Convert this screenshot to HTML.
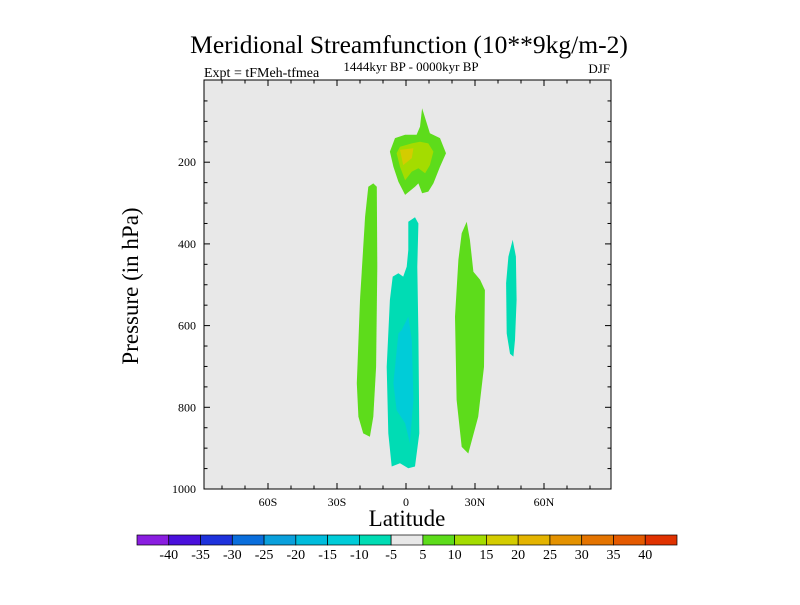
<!DOCTYPE html>
<html><head><meta charset="utf-8"><style>
body{margin:0;background:#fff;width:800px;height:600px;overflow:hidden}
svg text{font-family:"Liberation Serif",serif;fill:#000}
</style></head><body>
<svg id="chart" width="800" height="600" viewBox="0 0 800 600" xmlns="http://www.w3.org/2000/svg">
<text x="409" y="53" font-size="25.5" text-anchor="middle">Meridional Streamfunction (10**9kg/m-2)</text>
<text x="204" y="77" font-size="14">Expt = tFMeh-tfmea</text>
<text x="411" y="71" font-size="13" text-anchor="middle">1444kyr BP - 0000kyr BP</text>
<text x="610" y="73" font-size="13" text-anchor="end">DJF</text>
<rect x="204" y="80" width="407" height="409" fill="#e8e8e8"/>
<g id="fills"></g>
<rect x="204" y="80" width="407" height="409" fill="none" stroke="#000" stroke-width="1"/>
<g id="axes"></g>
<text x="407" y="526" font-size="23" text-anchor="middle">Latitude</text>
<text transform="translate(138,286) rotate(-90)" font-size="23" text-anchor="middle">Pressure (in hPa)</text>
<g id="colorbar"></g>
</svg>
<script>
const levelLabels=["-40","-35","-30","-25","-20","-15","-10","-5","5","10","15","20","25","30","35","40"];
const levelColors=["#8a1ee0","#4a10dc","#1e32dc","#0a6edc","#0aa0dc","#00bcdc","#00ccd8","#00dcb4","#e8e8e8","#5ddc1b","#a4dc00","#d4cc00","#e4b400","#e49200","#e47400","#e45a00","#e03200"];
const yTicks=[200,400,600,800,1000];
const xTicks=[-60,-30,0,30,60];
const xTickLabels=["60S","30S","0","30N","60N"];
// contour regions: [lat, pressure] pairs, value class
const regionGreenTop=[[7.0,68],[10.4,129],[14.8,141],[17.4,178],[14.8,211],[11.9,252],[9.7,272],[7.0,276],[5.4,252],[3.9,260],[-0.4,280],[-3.3,248],[-5.5,211],[-7.0,174],[-4.8,141],[-0.4,133],[4.6,133],[6.1,113]];
const regionLimeTop=[[-2.6,162],[2.5,154],[6.1,150],[9.7,154],[11.9,174],[10.4,207],[8.3,227],[5.4,215],[2.5,223],[-0.4,244],[-2.6,211],[-4.1,178]];
const regionYellowTop=[[-2.6,170],[3.2,166],[2.5,190],[-1.2,207]];
const regionGreenLeft=[[-14.2,252],[-12.7,260],[-12.5,456],[-13.0,701],[-14.2,823],[-15.7,872],[-18.6,864],[-20.7,823],[-21.4,741],[-20.0,537],[-17.8,333],[-16.4,260]];
const regionCyanCenter=[[1.0,346],[3.9,335],[5.4,350],[4.9,456],[5.4,619],[5.8,864],[3.9,945],[1.0,949],[-2.6,937],[-6.2,945],[-7.7,864],[-8.4,701],[-7.0,537],[-5.8,480],[-3.3,472],[-1.2,480],[0.3,456],[1.0,415]];
const regionCyanInner=[[1.0,578],[2.5,635],[3.2,782],[1.7,888],[-0.4,839],[-4.1,807],[-5.5,741],[-3.3,619],[-1.9,611]];
const regionGreenRight=[[26.4,346],[27.8,390],[29.3,468],[32.2,488],[34.3,513],[33.9,701],[31.4,823],[27.1,913],[24.2,897],[22.0,782],[21.3,578],[22.8,439],[24.2,374]];
const regionCyanRight=[[46.4,390],[47.8,431],[48.1,537],[47.4,635],[46.7,676],[45.2,669],[43.8,619],[43.5,496],[44.5,431]];

const NS="http://www.w3.org/2000/svg";
const xs=lat=>406+lat*2.3;
const ys=p=>80.5+p*81.7/200;
function mk(tag,attrs,parent){const e=document.createElementNS(NS,tag);for(const k in attrs)e.setAttribute(k,attrs[k]);parent.appendChild(e);return e;}
const fills=document.getElementById('fills');
const regions=[[regionGreenTop,9,'region-top-positive'],[regionLimeTop,10,'region-top-10'],[regionYellowTop,11,'region-top-15'],[regionGreenLeft,9,'region-south-positive'],[regionCyanCenter,7,'region-center-negative'],[regionCyanInner,6,'region-center-minus10'],[regionGreenRight,9,'region-north-positive'],[regionCyanRight,7,'region-far-north-negative']];
regions.forEach(r=>{
  const pg=mk('polygon',{points:r[0].map(d=>xs(d[0]).toFixed(1)+','+ys(d[1]).toFixed(1)).join(' '),fill:levelColors[r[1]]},fills);
  
  
});
const axes=document.getElementById('axes');
for(let p=50;p<1000;p+=50){
  const y=ys(p);const major=p%200===0;const len=major?6:3.5;
  mk('line',{x1:204,y1:y,x2:204+len,y2:y,stroke:'#000'},axes);
  mk('line',{x1:611,y1:y,x2:611-len,y2:y,stroke:'#000'},axes);
}
yTicks.forEach(p=>{
  const t=mk('text',{x:196,y:ys(p)+4,'font-size':12,'text-anchor':'end'},axes);
  t.textContent=p;
  
  
});
for(let lat=-80;lat<=80;lat+=10){
  const x=xs(lat);const major=lat%30===0;const len=major?6:3.5;
  mk('line',{x1:x,y1:489,x2:x,y2:489-len,stroke:'#000'},axes);
  mk('line',{x1:x,y1:80,x2:x,y2:80+len,stroke:'#000'},axes);
}
xTicks.forEach((lat,i)=>{
  const t=mk('text',{x:xs(lat),y:506,'font-size':12,'text-anchor':'middle'},axes);
  t.textContent=xTickLabels[i];
  
  
});
const cb=document.getElementById('colorbar');
const bw=540/levelColors.length;
levelColors.forEach((c,i)=>{
  const r=mk('rect',{x:137+i*bw,y:535,width:bw,height:10,fill:c,stroke:'#000','stroke-width':0.7},cb);
  
  
});
levelLabels.forEach((l,i)=>{
  const t=mk('text',{x:137+(i+1)*bw,y:559,'font-size':14,'text-anchor':'middle'},cb);
  t.textContent=l;
  
  
});
</script>
</body></html>
